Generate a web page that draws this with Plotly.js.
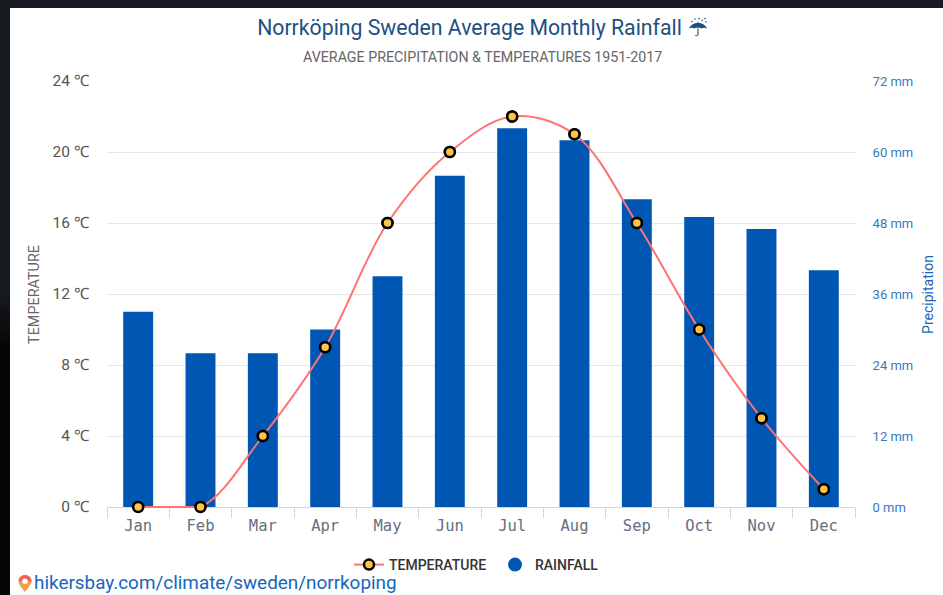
<!DOCTYPE html>
<html><head><meta charset="utf-8">
<script src="https://cdn.plot.ly/plotly-3.0.1.min.js"></script>
<style>
html,body{margin:0;padding:0;width:943px;height:595px;overflow:hidden;background:#171b20}
#strip{position:absolute;left:0;top:290px;width:10px;height:305px;background:linear-gradient(#171b20,#050505 60px)}
#chart{position:absolute;left:10px;top:8px;width:933px;height:587px;background:#fff}
</style></head><body><div id="strip"></div><div id="chart"></div>
<script>
const months=['Jan','Feb','Mar','Apr','May','Jun','Jul','Aug','Sep','Oct','Nov','Dec'];
const temperature=[0,0,4,9,16,20,22,21,16,10,5,1];
const rainfall=[33,26,26,30,39,56,64,62,52,49,47,40];
const tempTicks=[0,4,8,12,16,20,24];
const rainTicks=[0,12,24,36,48,60,72];
const W=933,H=587,L=97,R=88,T=73,B=87;
const plotH=H-T-B;
const px=x=>(x-10-L)/(W-L-R), py=y=>1-(y-8-T)/plotH;
const svg=s=>'data:image/svg+xml;utf8,'+encodeURIComponent(s);
const pinIcon='<svg xmlns="http://www.w3.org/2000/svg" viewBox="0 0 14 18"><path d="M7 18C3 12 .5 10 .5 6.5a6.5 6.5 0 0 1 13 0C13.500 10 11 12 7 18z" fill="#f0a04b"/><path d="M7 0a6.500 6.500 0 0 1 6.500 6.500H.5A6.500 6.500 0 0 1 7 0z" fill="#e8655a"/><circle cx="7" cy="6.500" r="2.800" fill="#fff"/></svg>';
const umbrellaIcon='<svg xmlns="http://www.w3.org/2000/svg" viewBox="0 0 20 20"><g fill="#1c5082"><path d="M1 11.500C3 7.500 6 6 10 6s7 1.500 9 5.500c-2-1-4-1-5.500 0-1-1-2.300-1-3.500-1s-2.500 0-3.500 1C5 10.500 3 10.500 1 11.500z"/><rect x="9.500" y="4.800" width="1" height="12"/><path d="M9.500 16h1v1.500a1.800 1.800 0 0 1-3.500 .5h1a.8 .8 0 0 0 1.500-.5z"/><circle cx="4" cy="4.500" r=".8"/><circle cx="7" cy="2" r=".8"/><circle cx="11" cy="1.500" r=".8"/><circle cx="14" cy="3.200" r=".8"/><circle cx="17" cy="1.500" r=".8"/><circle cx="18" cy="5" r=".8"/></g></svg>';
const markerStyle={size:10,color:'#ffc445',line:{color:'#000',width:2.5}};
const traces=[
 {type:'bar',x:months,y:rainfall,yaxis:'y',marker:{color:'#0056b3'},width:0.48,showlegend:false,name:'RAINFALL',hoverinfo:'y'},
 {type:'scatter',mode:'lines+markers',x:months,y:temperature,yaxis:'y2',name:'TEMPERATURE',
  line:{shape:'spline',smoothing:1,color:'#ff7272',width:2},cliponaxis:true,marker:markerStyle},
 {type:'scatter',mode:'lines',x:months.slice(0,2),y:temperature.slice(0,2),yaxis:'y2',showlegend:false,hoverinfo:'skip',
  line:{color:'#ff7272',width:2}},
 {type:'scatter',mode:'markers',x:months,y:temperature,yaxis:'y2',showlegend:false,cliponaxis:false,hoverinfo:'skip',marker:markerStyle},
 {type:'scatter',mode:'markers',x:months,y:months.map(()=>null),yaxis:'y',name:'RAINFALL',
  marker:{size:14,color:'#0056b3',symbol:'circle'}}
];
const layout={
 width:W,height:H,margin:{l:L,r:R,t:T,b:B,pad:0},paper_bgcolor:'#fff',plot_bgcolor:'#fff',
 font:{family:'Roboto',color:'#666'},
 title:{text:'Norrköping Sweden Average Monthly Rainfall',font:{family:'Roboto',size:21.25,color:'#1c5082'},xref:'paper',x:px(469.5),xanchor:'center',yref:'container',y:1-20/H,yanchor:'middle'},
 bargap:0.52,
 xaxis:{type:'category',categoryorder:'array',categoryarray:months,range:[-0.5,11.5],anchor:'free',position:1/plotH,layer:'below traces',
  tickson:'boundaries',ticks:'outside',ticklen:10,tickwidth:1,tickcolor:'#ccd6eb',
  showline:true,linecolor:'#ccd6eb',linewidth:1,showgrid:false,ticklabelstandoff:4,tickfont:{family:'DejaVu Sans Mono',size:15.5,color:'#666e80'}},
 yaxis:{side:'right',range:[-72/(plotH-1),72],tickvals:rainTicks,ticktext:rainTicks.map(v=>v+' mm'),showgrid:true,gridcolor:'#e6e6e6',gridwidth:1,zeroline:false,
  ticks:'outside',ticklen:14,tickcolor:'rgba(0,0,0,0)',tickfont:{family:'Roboto',size:13,color:'#3a78c2'},
  title:{text:'Precipitation',font:{family:'Roboto',size:14,color:'#1a65b8'},standoff:10}},
 yaxis2:{side:'left',overlaying:'y',range:[-24/(plotH-1),24],tickvals:tempTicks,ticktext:tempTicks.map(v=>v+' ℃'),showgrid:false,zeroline:false,
  ticks:'outside',ticklen:14,tickcolor:'rgba(0,0,0,0)',tickfont:{family:'Roboto',size:15.5,color:'#555'},
  title:{text:'TEMPERATURE',font:{family:'Roboto',size:14.4,color:'#666'},standoff:9}},
 legend:{orientation:'h',x:px(349),xanchor:'left',y:py(565),yanchor:'middle',traceorder:'normal',entrywidth:101,entrywidthmode:'pixels',font:{family:'Roboto',size:14,color:'#333',weight:500},itemsizing:'trace',bgcolor:'rgba(0,0,0,0)'},
 annotations:[
  {text:'AVERAGE PRECIPITATION & TEMPERATURES 1951-2017',xref:'paper',yref:'paper',x:px(482.5),y:py(57),xanchor:'center',yanchor:'middle',showarrow:false,font:{family:'Roboto',size:14.25,color:'#666'}},
  {text:'hikersbay.com/climate/sweden/norrkoping',xref:'paper',yref:'paper',x:px(33),y:py(595),xanchor:'left',yanchor:'bottom',borderpad:0,showarrow:false,font:{family:'Roboto',size:18.9,color:'#1565c0'}}
 ],
 images:[
  {source:svg(pinIcon),xref:'paper',yref:'paper',x:px(18),y:py(575),sizex:14/(W-L-R),sizey:17/plotH,xanchor:'left',yanchor:'top',sizing:'stretch',layer:'above'},
  {source:svg(umbrellaIcon),xref:'paper',yref:'paper',x:px(688),y:py(17),sizex:20/(W-L-R),sizey:20/plotH,xanchor:'left',yanchor:'top',sizing:'stretch',layer:'above'}
 ]
};
Plotly.newPlot('chart',traces,layout,{displayModeBar:false,staticPlot:true});
</script></body></html>
